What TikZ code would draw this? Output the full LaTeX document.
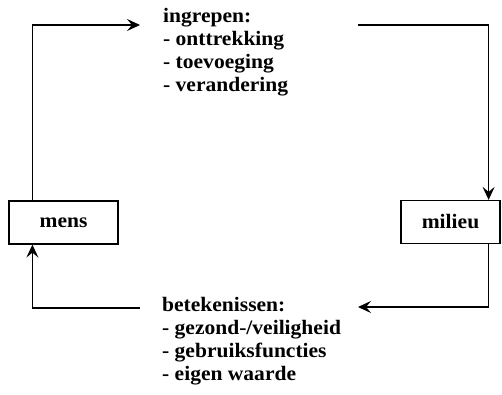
\documentclass[tikz,border=0pt]{standalone}
\usepackage{fontspec}
\setmainfont[FakeStretch=1.05]{Liberation Serif}
\usetikzlibrary{arrows.meta}

\tikzset{
	box/.style={draw, line width=1.2pt, minimum height=43pt, inner sep=0pt},
	txt/.style={anchor=base west, inner sep=0pt},
	arr/.style={line width=1.2pt, -{Stealth[length=13pt, width=12pt, inset=5pt]}},
	ln/.style={line width=1.2pt}
}

\begin{document}
\begin{tikzpicture}[x=1pt, y=-1pt, font=\fontsize{20.5}{23}\selectfont\bfseries]
	%%%%% START %%%%%
	\useasboundingbox (0,0) rectangle (502,395);
	
	\node[box, minimum width=109pt] (mens) at (63.5, 222.5) {mens};
	\node[box, minimum width=99pt] (milieu) at (450.5, 222) {milieu};
	
	\foreach \t [count=\i from 0] in {ingrepen:, - onttrekking, - toevoeging, - verandering}
		\node[txt] (in\i) at (163, 23+23*\i) {\t};
	\foreach \t [count=\i from 0] in {betekenissen:, - gezond-/veiligheid, - gebruiksfuncties, - eigen waarde}
		\node[txt] (be\i) at (162, 311+23*\i) {\t};
	
	\draw[arr] ([xshift=24pt]mens.north west) |- ([shift={(-23,2)}]in0.base west);
	\draw[arr] ([shift={(195,2)}]in0.base west) -| ([xshift=-12pt]milieu.north east);
	\draw[arr] ([xshift=-12pt]milieu.south east) |- ([shift={(196,-4)}]be0.base west);
	\draw[arr] ([shift={(-22,-3)}]be0.base west) -| ([xshift=24pt]mens.south west);
	
	%%%%% END %%%%%
\end{tikzpicture}
\end{document}
